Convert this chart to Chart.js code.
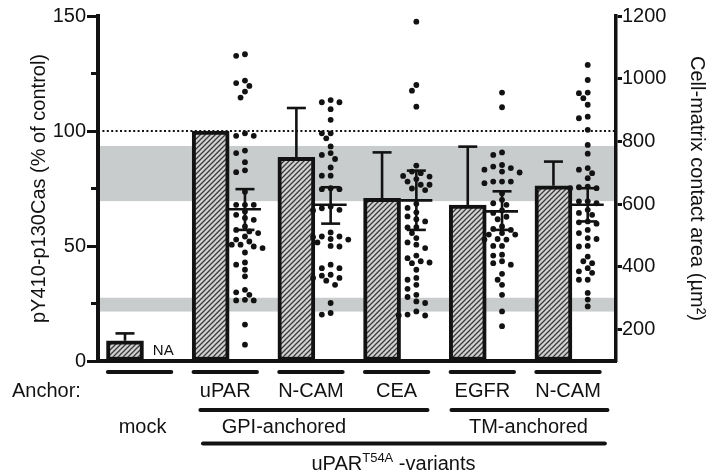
<!DOCTYPE html>
<html>
<head>
<meta charset="utf-8">
<script src="https://cdn.jsdelivr.net/npm/chart.js@4.4.1/dist/chart.umd.min.js"></script>
<style>
  html, body { margin: 0; padding: 0; background: #fff; }
</style>
</head>
<body>
<canvas id="c" width="712" height="475"></canvas>
<script>
// groups along the x axis
const groups = ['mock', 'uPAR', 'N-CAM', 'CEA', 'EGFR', 'N-CAM'];

// bars: pY410-p130Cas (% of control), left axis
const barValues = [8.8, 100, 88.6, 70.7, 67.8, 76.2];
const barErrTop = [12, null, 110, 90.7, 93.2, 86.7];

// dots: cell-matrix contact area (um2), right axis
const areaMock = [];
const areaUpar = [1078, 1073, 994, 986, 977, 959, 940, 826, 818, 818, 771, 763, 734, 708, 702, 640,
  598, 598, 598, 577, 566, 556, 550, 529, 518, 513, 508, 497, 487, 481, 471, 471, 465, 460, 446,
  414, 407, 391, 370, 327, 319, 311, 295, 293, 293, 216, 152];
const areaNcam = [925, 932, 925, 903, 869, 826, 810, 826, 784, 757, 744, 763, 717, 691, 691, 651,
  648, 648, 593, 582, 580, 587, 510, 497, 495, 489, 487, 497, 465, 467, 478, 396, 407, 396, 375,
  372, 356, 365, 365, 343, 285, 248, 253];
const areaCea = [1182, 962, 980, 911, 723, 704, 699, 690, 688, 680, 672, 662, 662, 650, 645, 601,
  588, 574, 561, 552, 545, 527, 526, 508, 492, 478, 471, 460, 436, 428, 418, 414, 412, 391, 365,
  359, 343, 330, 311, 304, 290, 285, 248, 245, 245, 258];
const areaEgfr = [956, 909, 765, 757, 725, 720, 715, 710, 701, 704, 672, 667, 672, 672, 635, 614,
  603, 598, 580, 572, 560, 552, 529, 518, 521, 508, 503, 503, 489, 487, 487, 467, 467, 439, 436,
  418, 412, 407, 378, 359, 343, 311, 258, 211];
const areaNcamTm = [1044, 996, 954, 956, 938, 917, 874, 879, 837, 789, 761, 715, 710, 699, 683,
  656, 651, 651, 654, 609, 603, 609, 582, 572, 566, 542, 538, 545, 518, 508, 492, 489, 467, 465,
  433, 418, 412, 396, 386, 381, 359, 359, 317, 296, 274];
const areaSets = [areaMock, areaUpar, areaNcam, areaCea, areaEgfr, areaNcamTm];

// mean and error of the dots
const areaMean = [null, 584, 598, 612, 577, 598];
const areaHi = [null, 648, 654, 707, 641, 651];
const areaLo = [null, 518, 538, 518, 518, 545];

// grey reference bands and dotted line (left axis units)
const bands = [[69.5, 93.5], [21.5, 27.5]];
const refLine = 100;

// ticks
const leftTicks = [0, 50, 100, 150];
const leftMinorTicks = [25, 75, 125];
const rightTicks = [200, 400, 600, 800, 1000, 1200];

// texts
const leftTitle = 'pY410-p130Cas (% of control)';
const rightTitle = 'Cell-matrix contact area (\u00b5m\u00b2)';
const anchorLabel = 'Anchor:';
const naLabel = 'NA';
const classLabels = ['GPI-anchored', 'TM-anchored'];
const classSpans = [[0.68, 3.33], [3.61, 5.43]];
const variantsSpan = [0.71, 5.40];

const FONT = "'Liberation Sans', Arial, Helvetica, sans-serif";
const INK = '#121212';

// hatched fill for the bars
const pc = document.createElement('canvas');
pc.width = pc.height = 5;
const p = pc.getContext('2d');
p.fillStyle = '#d2d2d2';
p.fillRect(0, 0, 5, 5);
p.strokeStyle = '#3a3a3a';
p.lineWidth = 1.3;
p.beginPath();
p.moveTo(-1, 6); p.lineTo(6, -1);
p.moveTo(-1, 1); p.lineTo(1, -1);
p.moveTo(4, 6); p.lineTo(6, 4);
p.stroke();
const ctx = document.getElementById('c').getContext('2d');
const hatch = ctx.createPattern(pc, 'repeat');

function line(c, x1, y1, x2, y2) {
  c.beginPath(); c.moveTo(x1, y1); c.lineTo(x2, y2); c.stroke();
}

const decor = {
  id: 'decor',
  beforeDraw(chart) {
    const { ctx: c, chartArea: a, scales: { y } } = chart;
    c.save();
    c.fillStyle = '#c9cccc';
    bands.forEach(([lo, hi]) => {
      const t = y.getPixelForValue(hi), b = y.getPixelForValue(lo);
      c.fillRect(a.left, t, a.right - a.left, b - t);
    });
    c.strokeStyle = INK;
    c.lineWidth = 2;
    c.setLineDash([2, 2.4]);
    const ry = y.getPixelForValue(refLine);
    line(c, a.left, ry, a.right, ry);
    c.restore();
  },
  afterDatasetsDraw(chart) {
    const { ctx: c, scales: { x, y, y1 } } = chart;
    c.save();
    c.strokeStyle = INK;
    c.lineWidth = 2.6;
    // bar error bars (upper only)
    barValues.forEach((v, i) => {
      if (barErrTop[i] == null) return;
      const px = x.getPixelForValue(i - 0.2);
      const top = y.getPixelForValue(barErrTop[i]);
      line(c, px, y.getPixelForValue(v), px, top);
      line(c, px - 9.5, top, px + 9.5, top);
    });
    // mean +- error on the dots
    areaMean.forEach((m, i) => {
      if (m == null) return;
      const px = x.getPixelForValue(i + 0.2);
      const hi = y1.getPixelForValue(areaHi[i]), lo = y1.getPixelForValue(areaLo[i]);
      const my = y1.getPixelForValue(m);
      line(c, px, hi, px, lo);
      line(c, px - 9.5, hi, px + 9.5, hi);
      line(c, px - 9.5, lo, px + 9.5, lo);
      line(c, px - 16, my, px + 16, my);
    });
    // minor ticks on the left axis
    c.lineWidth = 3;
    leftMinorTicks.forEach(v => {
      const ty = y.getPixelForValue(v);
      line(c, chart.chartArea.left - 7, ty, chart.chartArea.left, ty);
    });
    c.fillStyle = INK;
    c.font = '15px ' + FONT;
    c.textAlign = 'center';
    c.textBaseline = 'alphabetic';
    c.fillText(naLabel, x.getPixelForValue(0.2) + 4, 355);
    c.restore();
  },
  afterDraw(chart) {
    const { ctx: c, scales: { x } } = chart;
    c.save();
    c.strokeStyle = INK;
    c.fillStyle = INK;
    c.lineWidth = 4;
    c.lineCap = 'round';
    c.font = '20px ' + FONT;
    c.textBaseline = 'alphabetic';
    c.textAlign = 'left';
    c.fillText(anchorLabel, 12, 396.5);
    c.textAlign = 'center';
    groups.forEach((g, i) => {
      const x1 = x.getPixelForValue(i - 0.4), x2 = x.getPixelForValue(i + 0.34);
      line(c, x1, 372, x2, 372);
      if (i === 0) c.fillText(g, (x1 + x2) / 2 + 3, 432.5);
      else c.fillText(g, (x1 + x2) / 2, 396.5);
    });
    classSpans.forEach(([a, b], k) => {
      const x1 = x.getPixelForValue(a), x2 = x.getPixelForValue(b);
      line(c, x1, 410, x2, 410);
      c.fillText(classLabels[k], (x1 + x2) / 2 + (k === 0 ? -30 : -1), 432.5);
    });
    const v1 = x.getPixelForValue(variantsSpan[0]), v2 = x.getPixelForValue(variantsSpan[1]);
    line(c, v1, 443.5, v2, 443.5);
    // uPAR^T54A -variants
    const w1 = c.measureText('uPAR').width;
    const w3 = c.measureText(' -variants').width;
    c.font = '13px ' + FONT;
    const w2 = c.measureText('T54A').width;
    let sx = 393.5 - (w1 + w2 + w3) / 2;
    c.textAlign = 'left';
    c.font = '20px ' + FONT;
    c.fillText('uPAR', sx, 470);
    c.font = '13px ' + FONT;
    c.fillText('T54A', sx + w1, 462);
    c.font = '20px ' + FONT;
    c.fillText(' -variants', sx + w1 + w2, 470);
    c.restore();
  }
};

const chart = new Chart(ctx, {
  type: 'bar',
  data: {
    datasets: [
      {
        type: 'bar',
        data: groups.map((g, i) => ({ x: i - 0.2, y: barValues[i] })),
        xAxisID: 'x',
        yAxisID: 'y',
        backgroundColor: hatch,
        borderColor: INK,
        borderWidth: 4,
        borderSkipped: false,
        barThickness: 37,
        order: 2
      },
      {
        type: 'scatter',
        data: [],
        xAxisID: 'x',
        yAxisID: 'y1',
        pointRadius: 2.9,
        pointBackgroundColor: INK,
        pointBorderWidth: 0,
        order: 1
      }
    ]
  },
  options: {
    responsive: false,
    animation: false,
    devicePixelRatio: 1,
    layout: { padding: { top: 16, bottom: 114, left: 0, right: 0 } },
    plugins: { legend: { display: false }, tooltip: { enabled: false } },
    scales: {
      x: {
        type: 'linear',
        offset: false,
        min: -0.515,
        max: 5.53,
        ticks: { display: false },
        grid: { display: false, drawTicks: false, offset: false },
        border: { display: true, width: 4, color: INK },
        afterFit: s => { s.height = 0; }
      },
      y: {
        position: 'left',
        min: 0,
        max: 150,
        afterBuildTicks: s => { s.ticks = leftTicks.map(v => ({ value: v })); },
        ticks: { color: INK, font: { family: FONT, size: 20 }, padding: 1, callback: v => String(v) },
        grid: { drawOnChartArea: false, tickLength: 11, tickWidth: 3, tickColor: INK },
        border: { width: 4, color: INK },
        title: { display: true, text: leftTitle, color: INK, font: { family: FONT, size: 20 }, padding: { top: 27, bottom: 0 } },
        afterFit: s => { s.width = 98; }
      },
      y1: {
        position: 'right',
        min: 100,
        max: 1200,
        afterBuildTicks: s => { s.ticks = rightTicks.map(v => ({ value: v })); },
        ticks: { color: INK, font: { family: FONT, size: 20 }, padding: 0, callback: v => String(v) },
        grid: { drawOnChartArea: false, tickLength: 6, tickWidth: 3, tickColor: INK },
        border: { width: 3.5, color: INK },
        title: { display: true, text: rightTitle, color: INK, font: { family: FONT, size: 20 }, padding: { top: 3, bottom: 0 } },
        afterFit: s => { s.width = 96; }
      }
    }
  },
  plugins: [decor]
});

// spread the dots sideways (beeswarm) using the chart's own scales
const xs = chart.scales.x, ys = chart.scales.y1;
const STEP = 4.4, MIN = 6.4;
const pts = [];
areaSets.forEach((vals, i) => {
  const cx = xs.getPixelForValue(i + 0.2);
  const placed = [];
  [...vals].sort((a, b) => b - a).forEach(v => {
    const py = ys.getPixelForValue(v);
    let off = 0;
    for (let n = 0; n < 30; n++) {
      off = (n % 2 ? -1 : 1) * Math.ceil(n / 2) * STEP;
      if (placed.every(q => Math.hypot(q[0] - off, q[1] - py) >= MIN)) break;
    }
    placed.push([off, py]);
    pts.push({ x: xs.getValueForPixel(cx + off), y: v });
  });
});
chart.data.datasets[1].data = pts;
chart.update('none');
</script>
</body>
</html>
